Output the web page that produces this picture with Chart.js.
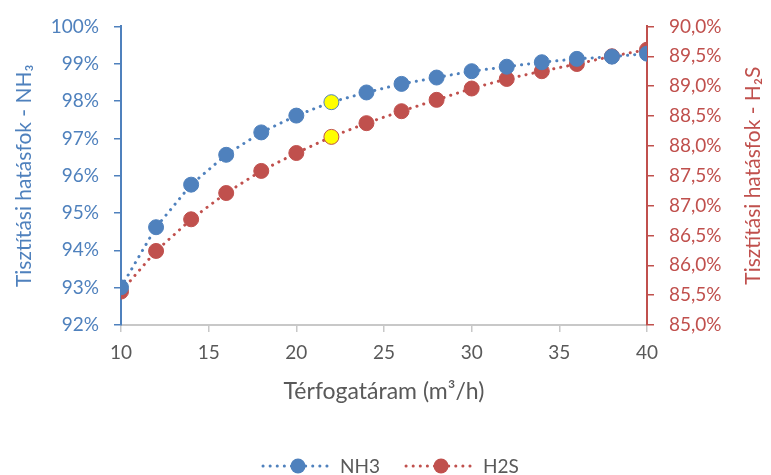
<!DOCTYPE html>
<html lang="hu">
  <head>
    <meta charset="UTF-8" />
    <title>Tisztítási hatásfok</title>
    <script src="https://cdn.jsdelivr.net/npm/chart.js"></script>
    <style>
      body {
        margin: 0;
        background: #ffffff;
      }
      #wrap {
        width: 771px;
        height: 475px;
      }
    </style>
  </head>
  <body>
    <div id="wrap">
      <canvas id="chart" width="771" height="475"></canvas>
    </div>
    <script>
      const flowRates = [10, 12, 14, 16, 18, 20, 22, 24, 26, 28, 30, 32, 34, 36, 38, 40];
      const nh3 = [93.01, 94.62, 95.76, 96.56, 97.16, 97.61, 97.97, 98.23, 98.46, 98.63, 98.8, 98.92, 99.04, 99.13, 99.19, 99.27];
      const h2s = [85.56, 86.24, 86.77, 87.21, 87.58, 87.88, 88.15, 88.38, 88.58, 88.77, 88.96, 89.12, 89.25, 89.37, 89.5, 89.61];
      const highlightX = 22;

      const blue = "#4f81bd";
      const red = "#c0504d";
      const grey = "#595959";
      const fontFamily = "Lato, 'Open Sans', sans-serif";
      const titleSize = 21;

      function points(ys) {
        return flowRates.map((x, i) => ({ x: x, y: ys[i] }));
      }
      function fills(color) {
        return flowRates.map((x) => (x === highlightX ? "#ffff00" : color));
      }

      // legend + right axis title drawn by hand (Excel style)
      const extrasPlugin = {
        id: "excelExtras",
        afterDraw(chart) {
          const ctx = chart.ctx;
          const area = chart.chartArea;
          ctx.save();

          // right title reads bottom-to-top like the left one
          ctx.font = titleSize + "px " + fontFamily;
          ctx.fillStyle = red;
          ctx.textAlign = "center";
          ctx.textBaseline = "middle";
          ctx.translate(753, (area.top + area.bottom) / 2);
          ctx.rotate(-Math.PI / 2);
          ctx.fillText("Tisztítási hatásfok - H₂S", 0, 0);
          ctx.setTransform(1, 0, 0, 1, 0, 0);

          const y = 466;
          let x = 263;
          ctx.font = "19px " + fontFamily;
          ctx.textAlign = "left";
          chart.data.datasets.forEach((ds) => {
            ctx.strokeStyle = ds.borderColor;
            ctx.lineWidth = 3;
            ctx.lineCap = "round";
            ctx.setLineDash([0.1, 7]);
            ctx.beginPath();
            ctx.moveTo(x, y);
            ctx.lineTo(x + 70, y);
            ctx.stroke();
            ctx.setLineDash([]);
            ctx.fillStyle = ds.borderColor;
            ctx.beginPath();
            ctx.arc(x + 35, y, 7.5, 0, Math.PI * 2);
            ctx.fill();
            ctx.fillStyle = grey;
            ctx.fillText(ds.label, x + 77, y + 1);
            x += 77 + ctx.measureText(ds.label).width + 26;
          });
          ctx.restore();
        },
      };

      new Chart(document.getElementById("chart"), {
        type: "line",
        data: {
          datasets: [
            {
              label: "NH3",
              data: points(nh3),
              yAxisID: "y",
              borderColor: blue,
              borderWidth: 3,
              borderDash: [0.1, 7],
              borderCapStyle: "round",
              pointRadius: 7.5,
              pointBorderWidth: 1,
              pointBorderColor: blue,
              pointBackgroundColor: fills(blue),
              tension: 0,
            },
            {
              label: "H2S",
              data: points(h2s),
              yAxisID: "y2",
              borderColor: red,
              borderWidth: 3,
              borderDash: [0.1, 7],
              borderCapStyle: "round",
              pointRadius: 7.5,
              pointBorderWidth: 1,
              pointBorderColor: red,
              pointBackgroundColor: fills(red),
              tension: 0,
            },
          ],
        },
        options: {
          responsive: false,
          animation: false,
          layout: { padding: { top: 21, left: 0, right: 0, bottom: 70 } },
          plugins: {
            legend: { display: false },
            tooltip: { enabled: false },
          },
          scales: {
            x: {
              type: "linear",
              min: 10,
              max: 40,
              afterFit: (s) => {
                s.height = 80;
              },
              ticks: {
                stepSize: 5,
                color: grey,
                font: { family: fontFamily, size: 19 },
                padding: 9,
                maxRotation: 0,
              },
              grid: {
                drawOnChartArea: false,
                color: "#c8c8c8",
                tickLength: 7,
                lineWidth: 1.5,
              },
              border: { color: "#c8c8c8", width: 2 },
              title: {
                display: true,
                text: "Térfogatáram (m³/h)",
                color: grey,
                font: { family: fontFamily, size: 23 },
                padding: 0,
              },
            },
            y: {
              position: "left",
              min: 92,
              max: 100,
              afterFit: (s) => {
                s.width = 121;
              },
              ticks: {
                stepSize: 1,
                color: blue,
                font: { family: fontFamily, size: 19 },
                callback: (v) => v + "%",
                padding: 15,
              },
              grid: {
                drawOnChartArea: false,
                color: blue,
                tickLength: 7,
                lineWidth: 1.5,
              },
              border: { color: blue, width: 2 },
              title: {
                display: true,
                text: "Tisztítási hatásfok - NH₃",
                color: blue,
                font: { family: fontFamily, size: titleSize },
                padding: { top: 12, bottom: 0 },
              },
            },
            y2: {
              position: "right",
              min: 85,
              max: 90,
              afterFit: (s) => {
                s.width = 124;
              },
              ticks: {
                stepSize: 0.5,
                color: red,
                font: { family: fontFamily, size: 19 },
                callback: (v) => v.toFixed(1).replace(".", ",") + "%",
                padding: 15,
              },
              grid: {
                drawOnChartArea: false,
                color: red,
                tickLength: 7,
                lineWidth: 1.5,
              },
              border: { color: red, width: 2 },
            },
          },
        },
        plugins: [extrasPlugin],
      });
    </script>
  </body>
</html>
